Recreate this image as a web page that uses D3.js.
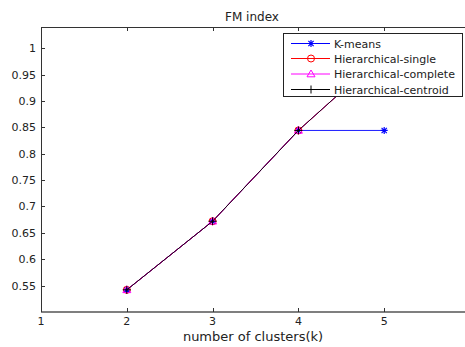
<!DOCTYPE html>
<html><head><meta charset="utf-8">
<script src="https://cdn.jsdelivr.net/npm/d3@7"></script>
<style>body{margin:0;background:#fff}</style>
</head><body><svg id="c" width="465" height="347"></svg>
<script>
const ks = [2, 3, 4, 5];
const kmeans = [0.542, 0.672, 0.844, 0.844];
const hSingle = [0.542, 0.672, 0.844, 0.99];
const hComplete = [0.542, 0.672, 0.844, 0.99];
const hCentroid = [0.542, 0.672, 0.844, 0.99];
const xTicks = [1, 2, 3, 4, 5];
const yTicks = [0.55, 0.6, 0.65, 0.7, 0.75, 0.8, 0.85, 0.9, 0.95, 1];
const seriesNames = ["K-means", "Hierarchical-single", "Hierarchical-complete", "Hierarchical-centroid"];

const font = "DejaVu Sans, sans-serif";
const svg = d3.select("#c");
const L = 41, R = 470, T = 27, B = 312;
const x = d3.scaleLinear().domain([1, 6]).range([L, R]);
const y = d3.scaleLinear().domain([0.5, 1.04]).range([B, T]);

const series = [
  {name: seriesNames[0], vals: kmeans, color: "#0000ff", marker: "star"},
  {name: seriesNames[1], vals: hSingle, color: "#ff0000", marker: "circle"},
  {name: seriesNames[2], vals: hComplete, color: "#ff00ff", marker: "tri"},
  {name: seriesNames[3], vals: hCentroid, color: "#000000", marker: "plus"}
];

svg.append("defs").append("clipPath").attr("id", "pc")
  .append("rect").attr("x", L).attr("y", T).attr("width", R - L).attr("height", B - T);

function drawMarker(g, type, cx, cy, color) {
  if (type === "star") {
    const s = 3.5;
    g.append("path").attr("d", `M${cx-s},${cy}H${cx+s}M${cx},${cy-s}V${cy+s}M${cx-s*0.75},${cy-s*0.75}L${cx+s*0.75},${cy+s*0.75}M${cx-s*0.75},${cy+s*0.75}L${cx+s*0.75},${cy-s*0.75}`)
      .attr("stroke", color).attr("stroke-width", 1.2).attr("fill", "none");
  } else if (type === "circle") {
    g.append("circle").attr("cx", cx).attr("cy", cy).attr("r", 3.5).attr("stroke", color).attr("fill", "none").attr("stroke-width", 1);
  } else if (type === "tri") {
    const s = 4;
    g.append("path").attr("d", `M${cx},${cy-s}L${cx+s},${cy+s*0.7}L${cx-s},${cy+s*0.7}Z`).attr("stroke", color).attr("fill", "none").attr("stroke-width", 1);
  } else if (type === "plus") {
    const s = 4;
    g.append("path").attr("d", `M${cx-s},${cy}H${cx+s}M${cx},${cy-s}V${cy+s}`).attr("stroke", color).attr("stroke-width", 1).attr("fill", "none");
  }
}

const plot = svg.append("g").attr("clip-path", "url(#pc)");
const line = d3.line().x((d, i) => x(ks[i])).y(d => y(d));
series.forEach(s => {
  plot.append("path").datum(s.vals).attr("d", line).attr("fill", "none").attr("stroke", s.color).attr("stroke-width", 0.9);
  s.vals.forEach((v, i) => drawMarker(plot, s.marker, x(ks[i]), y(v), s.color));
});

const axc = "#333";
svg.append("line").attr("x1", L).attr("x2", R).attr("y1", T + 0.5).attr("y2", T + 0.5).attr("stroke", axc);
svg.append("line").attr("x1", L).attr("x2", R).attr("y1", B).attr("y2", B).attr("stroke", "#555").attr("stroke-width", 1.5);
svg.append("line").attr("x1", L + 0.5).attr("x2", L + 0.5).attr("y1", T).attr("y2", B).attr("stroke", axc);

xTicks.forEach(t => {
  const px = Math.round(x(t)) + 0.5;
  svg.append("line").attr("x1", px).attr("x2", px).attr("y1", B).attr("y2", B - 4).attr("stroke", axc);
  svg.append("line").attr("x1", px).attr("x2", px).attr("y1", T).attr("y2", T + 4).attr("stroke", axc);
  svg.append("text").attr("x", x(t)).attr("y", 325).attr("text-anchor", "middle")
    .attr("font-family", font).attr("font-size", 11).attr("fill", "#222").text(t);
});
yTicks.forEach(t => {
  const py = Math.round(y(t)) + 0.5;
  svg.append("line").attr("x1", L).attr("x2", L + 4).attr("y1", py).attr("y2", py).attr("stroke", axc);
  svg.append("text").attr("x", 36).attr("y", y(t) + 4).attr("text-anchor", "end")
    .attr("font-family", font).attr("font-size", 11).attr("fill", "#222").text(String(+t.toFixed(2)));
});

svg.append("text").attr("x", 252).attr("y", 21).attr("text-anchor", "middle")
  .attr("font-family", font).attr("font-size", 12).attr("fill", "#222").text("FM index");
svg.append("text").attr("x", 253).attr("y", 341).attr("text-anchor", "middle")
  .attr("font-family", font).attr("font-size", 13).attr("fill", "#222").text("number of clusters(k)");

const lg = svg.append("g");
lg.append("rect").attr("x", 283.5).attr("y", 33.5).attr("width", 179).attr("height", 63)
  .attr("fill", "#fff").attr("stroke", "#222");
const rowY = [43.5, 58.5, 74, 89.5];
series.forEach((s, i) => {
  lg.append("line").attr("x1", 291).attr("x2", 330).attr("y1", rowY[i]).attr("y2", rowY[i]).attr("stroke", s.color);
  drawMarker(lg, s.marker, 311, rowY[i], s.color);
  lg.append("text").attr("x", 334).attr("y", rowY[i] + 4).attr("font-family", font).attr("font-size", 11)
    .attr("fill", "#222").text(s.name);
});
</script></body></html>
